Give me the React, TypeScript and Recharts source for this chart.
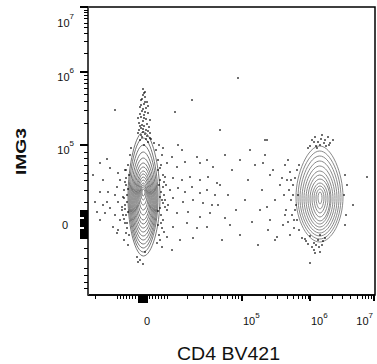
import React from 'react';
import { ComposedChart, XAxis, YAxis, Line, Scatter, ReferenceArea } from 'recharts';

// Display-scale ("channel") units: x 0..287, y 0..288
const xMajorValues = [55, 154, 222, 286];
const xMajorExponents = [0, 5, 6, 7];
const xMinorValues = [7, 29, 32, 35, 38, 41, 44, 47, 61, 64, 67, 70, 73, 76, 79, 99, 115, 124, 132, 139, 144, 147, 150, 177, 189, 199, 205, 210, 214, 217, 220, 244, 254, 262, 269, 274, 277, 280, 283];
const xZeroBlock = [50, 51, 52, 53, 54, 56, 57, 58, 59];

const yMajorValues = [288, 223, 150, 70];
const yMajorExponents = [7, 6, 5, 0];
const yMinorValues = [285, 283, 280, 277, 272, 268, 262, 254, 242, 220, 216, 212, 207, 201, 194, 185, 172, 143, 137, 130, 122, 115, 105, 93, 47, 37, 27, 20, 13, 7];
const yZeroBlock = [57, 58, 59, 60, 61, 62, 63, 64, 65, 66, 67, 68, 69, 71, 72, 73, 74, 75, 76, 77, 78, 79, 80, 81, 82, 83, 84, 85];
const yZeroNotches = [67, 68, 77, 78];

// Contour levels, outer -> inner
const leftCenterX = 55;
const leftContourL = [40, 41, 42, 43, 44, 45, 46, 47, 48, 49, 50, 51, 52, 53, 54];
const leftContourR = [72, 70, 69, 68, 67, 66, 65, 64, 63, 62, 61, 60, 59, 58, 57];
const leftContourT = [163, 157, 150, 143, 137, 132, 128, 124, 121, 118, 115, 112, 110, 108, 106];
const leftContourB = [39, 43, 47, 51, 55, 59, 63, 67, 71, 75, 80, 85, 90, 95, 99];
const leftContourM = [95, 95, 94, 93, 93, 93, 93, 93, 94, 95, 96, 97, 99, 101, 102];

const rightCenterX = 232;
const rightContourL = [208, 210, 212, 214, 216, 218, 220, 222, 224, 226, 228, 230];
const rightContourR = [255, 253, 251, 249, 247, 245, 243, 242, 240, 238, 236, 234];
const rightContourT = [149, 144, 139, 134, 129, 124, 120, 116, 112, 109, 106, 103];
const rightContourB = [53, 56, 59, 62, 65, 68, 71, 74, 78, 82, 86, 91];
const rightContourM = [95, 95, 95, 95, 96, 96, 97, 97, 97, 98, 98, 98];

// Events
const plumeDots = [[55,200],[57,198],[53,195],[59,193],[56,191],[52,188],[58,187],[54,184],[60,182],[56,180],[53,178],[58,176],[55,174],[51,172],[59,171],[56,169],[53,167],[58,165],[55,163],[61,168],[50,177],[62,175],[57,183],[54,196],[60,189],[52,181],[56,202],[55,166],[57,161],[53,160],[59,159],[51,165],[62,162],[56,177],[54,170],[60,164],[52,169],[57,193],[55,186],[54,158],[58,156],[52,155],[60,153],[56,150],[62,157],[50,162],[57,203],[55,206],[53,190]];
const leftSideDots = [[12,132],[19,136],[5,120],[22,127],[30,122],[32,115],[29,108],[12,103],[20,103],[27,100],[7,93],[15,90],[19,93],[30,93],[34,88],[9,83],[17,82],[22,87],[27,80],[32,75],[12,75],[25,68],[30,65],[34,85],[37,125],[35,98],[15,115],[37,72],[29,62],[38,110],[39,100],[37,90],[38,80],[36,105],[39,67],[38,117],[36,55],[40,50],[35,80],[40,130],[38,125],[41,120],[37,113],[40,106],[36,97],[39,93],[37,86],[40,83],[36,76],[39,72],[41,60],[38,62],[42,140],[43,147]];
const bridgeDots = [[75,147],[90,150],[94,145],[84,138],[79,132],[72,127],[89,128],[97,133],[109,138],[112,132],[119,135],[125,128],[77,118],[85,117],[94,115],[102,118],[112,115],[120,118],[129,112],[75,108],[82,105],[90,107],[97,103],[104,108],[112,102],[119,105],[127,100],[77,95],[85,97],[95,93],[105,95],[115,92],[124,90],[79,85],[89,82],[100,83],[112,78],[122,82],[75,75],[85,68],[99,72],[109,67],[119,68],[79,58],[92,55],[105,57],[74,48],[84,45],[72,115],[73,103],[74,95],[72,87],[75,120],[73,80],[76,100],[78,110],[80,90],[74,67],[71,60],[70,135],[68,145],[72,55],[70,125],[73,130],[71,110],[76,113],[72,98],[75,92],[70,84],[77,88],[73,72],[70,70],[76,63],[69,52],[74,140],[71,150],[66,152],[63,156]];
const belowDots = [[49,38],[57,43],[52,35],[55,31],[50,33],[222,32],[227,42],[232,43]];
const sparseDots = [[27,185],[150,217],[132,165],[87,183],[177,155],[104,195]];
const middleDots = [[137,140],[144,125],[152,135],[160,115],[167,130],[174,105],[182,120],[140,100],[148,85],[157,95],[164,73],[172,85],[180,65],[187,95],[192,110],[197,80],[134,55],[152,60],[170,50],[187,55],[200,135],[142,70],[177,140],[162,145],[132,110],[130,90],[137,77]];
const rightDots = [[224,155],[227,158],[230,153],[234,160],[237,155],[240,158],[242,152],[232,150],[228,149],[238,149],[245,155],[222,149],[197,130],[202,123],[199,115],[205,110],[201,105],[207,117],[196,100],[203,95],[208,90],[198,85],[204,80],[200,73],[209,75],[206,67],[195,70],[202,60],[210,100],[194,117],[214,57],[218,54],[222,59],[226,52],[230,55],[234,50],[237,57],[224,48],[220,51],[232,60],[179,155],[175,132],[185,125],[179,88],[182,75],[189,58],[265,90],[279,118],[257,120],[258,80],[226,153],[236,152],[233,156],[229,147],[241,150],[220,147],[228,50],[231,48],[217,56],[235,54],[226,45],[205,100],[207,85],[203,115],[209,125],[211,130],[206,75],[211,65],[256,100],[259,110],[257,70]];

const FONT = '"Liberation Sans", Arial, Helvetica, sans-serif';

function buildRing(cx: number, l: number, r: number, t: number, b: number, m: number) {
  return [
    { x: cx, y: m + 1.5 * (t - m) },
    { x: cx + 1.5 * (r - cx), y: m },
    { x: cx, y: m - 1.5 * (m - b) },
    { x: cx - 1.5 * (cx - l), y: m },
  ];
}

const leftRings = leftContourL.map((l, i) => buildRing(leftCenterX, l, leftContourR[i], leftContourT[i], leftContourB[i], leftContourM[i]));
const rightRings = rightContourL.map((l, i) => buildRing(rightCenterX, l, rightContourR[i], rightContourT[i], rightContourB[i], rightContourM[i]));
const allDots = [...plumeDots, ...leftSideDots, ...bridgeDots, ...belowDots, ...sparseDots, ...middleDots, ...rightDots].map(([x, y]) => ({ x, y }));

const xTicks = [...xMajorValues, ...xMinorValues, ...xZeroBlock].sort((a, b) => a - b);
const yTicks = [...yMajorValues, ...yMinorValues, ...yZeroBlock].sort((a, b) => a - b);

function XTick(props: any) {
  const { x, y, payload } = props;
  const v = payload.value;
  const mi = xMajorValues.indexOf(v);
  const inBlock = xZeroBlock.includes(v);
  const len = mi >= 0 ? (xMajorExponents[mi] === 0 ? 8 : 6) : inBlock ? 8 : 3.5;
  const px = Math.round(x) + 0.5;
  let label: any = null;
  if (mi >= 0) {
    const e = xMajorExponents[mi];
    if (e === 0) {
      label = (
        <text x={x + 4} y={y + 30} textAnchor="middle" fontSize={11} fontFamily={FONT} fill="#111">0</text>
      );
    } else {
      const anchor = e === 7 ? 'end' : 'start';
      const lx = e === 7 ? x - 1 : x + 1;
      label = (
        <text x={lx} y={y + 30} textAnchor={anchor} fontSize={11} fontFamily={FONT} fill="#111">
          10<tspan dy={-7} fontSize={8}>{e}</tspan>
        </text>
      );
    }
  }
  return (
    <g>
      <line x1={mi >= 0 ? Math.round(x) : px} x2={mi >= 0 ? Math.round(x) : px} y1={y} y2={y + len} stroke="#000" strokeWidth={mi >= 0 ? 2 : 1} shapeRendering="crispEdges" />
      {label}
    </g>
  );
}

function YTick(props: any) {
  const { x, y, payload } = props;
  const v = payload.value;
  const mi = yMajorValues.indexOf(v);
  const inBlock = yZeroBlock.includes(v);
  const notch = yZeroNotches.includes(v);
  const len = mi >= 0 ? 8 : inBlock ? (notch ? 4 : 8) : 4.5;
  const py = Math.round(y) + 0.5;
  let label: any = null;
  if (mi >= 0) {
    const e = yMajorExponents[mi];
    if (e === 0) {
      label = (
        <text x={x - 20} y={y + 4} textAnchor="end" fontSize={11} fontFamily={FONT} fill="#111">0</text>
      );
    } else {
      const dy = e === 7 ? 20 : 9;
      label = (
        <text x={x - 14} y={y + dy} textAnchor="end" fontSize={11} fontFamily={FONT} fill="#111">
          10<tspan dy={-8} fontSize={8}>{e}</tspan>
        </text>
      );
    }
  }
  return (
    <g>
      <line x1={x} x2={x - len} y1={mi >= 0 ? Math.round(y) : py} y2={mi >= 0 ? Math.round(y) : py} stroke="#000" strokeWidth={mi >= 0 ? 2 : 1} shapeRendering="crispEdges" />
      {label}
    </g>
  );
}

const DotShape = (props: any) => {
  const { cx, cy } = props;
  if (cx == null || cy == null) return null;
  return <rect x={Math.round(cx) - 0.75} y={Math.round(cy) - 0.75} width={1.5} height={1.5} fill="#000" />;
};

export default function App() {
  return (
    <div style={{ position: 'absolute', left: 0, top: 0, width: 377, height: 364, background: '#fff' }}>
      <ComposedChart width={377} height={364} margin={{ top: 7, right: 2, bottom: 0, left: 0 }}>
        <XAxis
          type="number"
          dataKey="x"
          domain={[0, 287]}
          allowDataOverflow
          ticks={xTicks}
          interval={0}
          tickSize={0}
          tickMargin={0}
          tickLine={false}
          tick={<XTick />}
          height={69}
          axisLine={{ stroke: '#000', strokeWidth: 1.5 }}
        />
        <YAxis
          type="number"
          dataKey="y"
          domain={[0, 288]}
          allowDataOverflow
          ticks={yTicks}
          interval={0}
          tickSize={0}
          tickMargin={0}
          tickLine={false}
          tick={<YTick />}
          width={88}
          axisLine={{ stroke: '#444', strokeWidth: 2 }}
        />
        <ReferenceArea x1={0} x2={287} y1={0} y2={288} fill="none" stroke="#000" strokeWidth={1.5} ifOverflow="visible" />
        {leftRings.map((ring, i) => (
          <Line key={'l' + i} data={ring} dataKey="y" type="basisClosed" stroke="#666" strokeWidth={0.9} dot={false} activeDot={false} isAnimationActive={false} legendType="none" />
        ))}
        {rightRings.map((ring, i) => (
          <Line key={'r' + i} data={ring} dataKey="y" type="basisClosed" stroke="#7a7a7a" strokeWidth={0.9} dot={false} activeDot={false} isAnimationActive={false} legendType="none" />
        ))}
        <Scatter data={allDots} dataKey="y" shape={<DotShape />} isAnimationActive={false} legendType="none" />
      </ComposedChart>
      <svg width={377} height={364} style={{ position: 'absolute', left: 0, top: 0, pointerEvents: 'none' }}>
        <text x={228.5} y={360} textAnchor="middle" fontSize={18} fontFamily={FONT} fill="#111" textLength={103} lengthAdjust="spacingAndGlyphs">CD4 BV421</text>
        <text x={26} y={151.5} transform="rotate(-90 26 151.5)" textAnchor="middle" fontSize={15} fontWeight="bold" fontFamily={FONT} fill="#111" textLength={47} lengthAdjust="spacingAndGlyphs">IMG3</text>
      </svg>
    </div>
  );
}
